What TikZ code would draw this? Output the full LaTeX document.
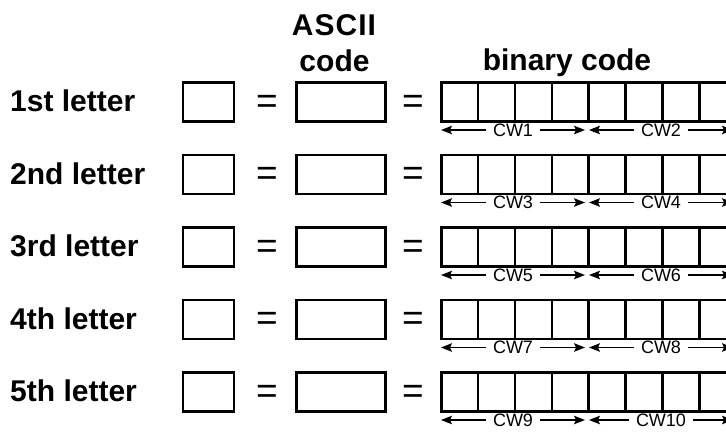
\documentclass[tikz,border=0pt]{standalone}
\usepackage{fontspec}
\setmainfont{Liberation Sans}
\usetikzlibrary{arrows.meta}
\begin{document}
\begin{tikzpicture}[x=1pt,y=1pt,
  box/.style={draw,line width=2.6pt,inner sep=0pt,anchor=north west},
  lab/.style={font=\fontsize{30}{30}\selectfont\bfseries,anchor=base west,inner sep=0pt},
  hdr/.style={font=\fontsize{30}{30}\selectfont\bfseries,anchor=base,inner sep=0pt},
  eq/.style={font=\fontsize{37}{37}\selectfont,anchor=base,inner sep=0pt},
  cw/.style={font=\fontsize{18}{18}\selectfont,inner ysep=0pt,inner xsep=7pt},
  span/.style={line width=1.5pt,-{Stealth[length=11pt,width=8.5pt,inset=2pt]}}]
\useasboundingbox (0,0) rectangle (726,-432);
\clip (0,0) rectangle (726,-432);
\fill[white] (0,0) rectangle (726,-432);
% headers
\node[hdr] (ascii) at (334,-35) {A\kern1pt S\kern1pt C\kern1pt I\kern1pt I};
\node[hdr] (code) at (334.5,-71) {code};
\node[hdr] (bin) at (567,-70) {binary code};
% rows
\foreach \i/\ord/\cwa/\cwb in {1/1st/CW1/CW2,2/2nd/CW3/CW4,3/3rd/CW5/CW6,4/4th/CW7/CW8,5/5th/CW9/CW10}{
  \pgfmathsetmacro{\t}{80+72.5*(\i-1)}
  \pgfmathsetmacro{\c}{\t+20.5}
  \node[lab] (l\i) at (10,-\c-11) {\ord\ letter};
  \node[box,minimum width=51,minimum height=39] (let\i) at (181.5,-\t-1) {};
  \node[eq] (ea\i) at (267,-\c-12.5) {=};
  \node[box,minimum width=89,minimum height=39] (asc\i) at (295,-\t-1) {};
  \node[eq] (eb\i) at (413,-\c-12.5) {=};
  \foreach \k in {0,...,7}{
    \node[box,minimum width=36.85,minimum height=39] (b\i-\k) at ({440+36.85*\k},-\t-1) {};
  }
  \coordinate (s\i a) at (441,-\t-50);
  \coordinate (s\i b) at (585,-\t-50);
  \coordinate (s\i c) at (589,-\t-50);
  \coordinate (s\i d) at (733,-\t-50);
  \node[cw] (cwa\i) at (513,-\t-50) {\cwa};
  \node[cw] (cwb\i) at (661,-\t-50) {\cwb};
  \draw[span] (cwa\i.west) -- (s\i a);
  \draw[span] (cwa\i.east) -- (s\i b);
  \draw[span] (cwb\i.west) -- (s\i c);
  \draw[span] (cwb\i.east) -- (s\i d);
}
\end{tikzpicture}
\end{document}
